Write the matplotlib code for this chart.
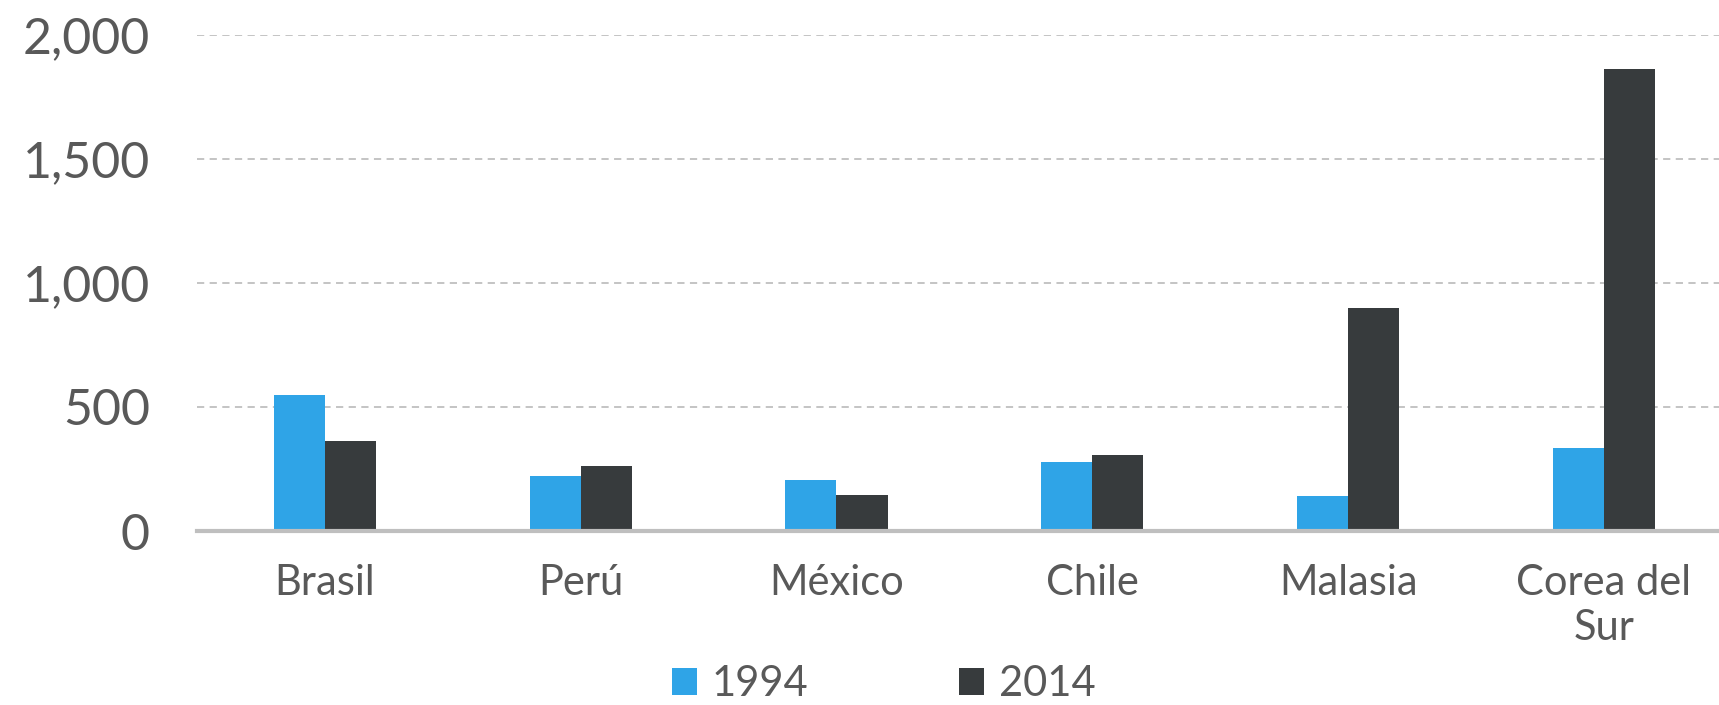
import numpy as np
import matplotlib
matplotlib.use("Agg")
from matplotlib import pyplot as plt
from matplotlib.ticker import FuncFormatter

# data
countries = ["Brasil", "Perú", "México", "Chile", "Malasia", "Corea del\nSur"]
vals_1994 = [548, 220, 205, 279, 142, 336]
vals_2014 = [363, 263, 146, 305, 900, 1864]
series_names = ["1994", "2014"]

blue = "#2FA4E7"
dark = "#373B3D"
grey_txt = "#595959"
grid_col = "#BFBFBF"

plt.rcParams['font.family'] = ['Lato', 'DejaVu Sans']
plt.rcParams['font.weight'] = 'normal'

fig = plt.figure(figsize=(17.19, 7.05), dpi=100)
ax = fig.add_axes([0.1146, 0.2468, 0.8854, 0.7036])

x = np.arange(len(countries))
w = 0.2
ax.bar(x - w/2, vals_1994, width=w, color=blue, label=series_names[0], zorder=3)
ax.bar(x + w/2, vals_2014, width=w, color=dark, label=series_names[1], zorder=3)

ax.set_xlim(-0.5, len(countries) - 0.55)
ax.set_ylim(0, 2000)
ax.set_yticks([0, 500, 1000, 1500, 2000])
ax.yaxis.set_major_formatter(FuncFormatter(lambda v, p: f"{int(v):,}"))
ax.grid(axis='y', linestyle=(0, (4, 3)), color=grid_col, linewidth=1.3, zorder=0)
ax.set_axisbelow(True)

for s in ['top', 'right', 'left']:
    ax.spines[s].set_visible(False)
ax.spines['bottom'].set_color(grid_col)
ax.spines['bottom'].set_linewidth(3)
ax.spines['bottom'].set_zorder(4)

ax.set_xticks(x)
ax.set_xticklabels(countries, linespacing=1.2)
ax.tick_params(axis='x', length=0, pad=24, labelsize=30, labelcolor=grey_txt)
ax.tick_params(axis='y', length=0, pad=34, labelsize=36, labelcolor=grey_txt)

fig.legend(loc='center', bbox_to_anchor=(0.514, 0.03), ncol=2, frameon=False,
           fontsize=30, handlelength=0.62, handleheight=0.62, handletextpad=0.35,
           columnspacing=3.6, labelcolor=grey_txt, borderpad=0.1)

fig.savefig("out.png", dpi=100)
